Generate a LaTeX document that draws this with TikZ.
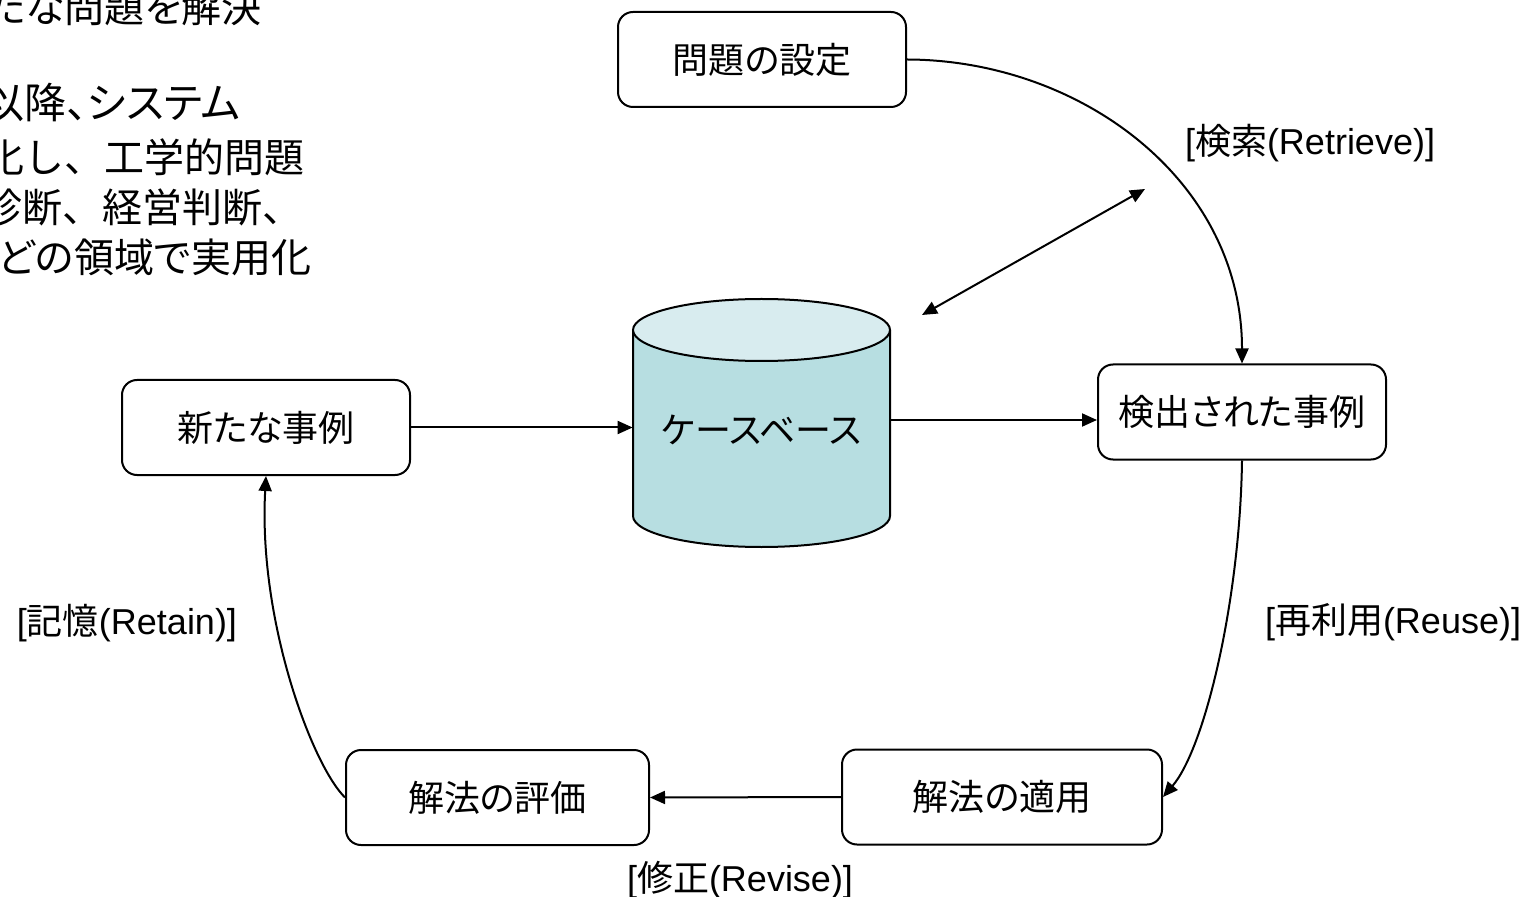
\documentclass[tikz,border=0pt]{standalone}
\usepackage{fontspec}
\setmainfont{Liberation Sans}
\newfontfamily\jp[RawFeature=+palt]{Noto Sans CJK JP}
\newfontfamily\jpf{Noto Sans CJK JP}
\usetikzlibrary{arrows.meta,calc}
\definecolor{cylbody}{RGB}{183,222,225}
\definecolor{cyltop}{RGB}{216,236,239}
\tikzset{
  box/.style={draw=black, line width=1pt, rounded corners=7.5pt, minimum height=47.5pt, inner sep=0pt, font=\jp\fontsize{18}{22}\selectfont},
  conn/.style={line width=1pt, -{Triangle[length=7.5pt,width=6.5pt]}},
  dconn/.style={line width=1pt, {Triangle[length=7.5pt,width=6.5pt]}-{Triangle[length=7.5pt,width=6.5pt]}},
  lbl/.style={font=\fontsize{18}{22}\selectfont, inner sep=0pt},
  side/.style={font=\jp\fontsize{20}{24}\selectfont, inner sep=0pt, anchor=west},
  sidef/.style={font=\jpf\fontsize{20}{24}\selectfont, inner sep=0pt, anchor=west}
}
\begin{document}
\begin{tikzpicture}[x=0.5pt,y=-0.5pt]
\useasboundingbox (0,0) rectangle (1529,897);
\clip (0,0) rectangle (1529,897);

% left text (cut by the page edge, as in the reference)
\node[side] (t1) at (-13,7) {たな問題を解決};
\node[side, font=\jp\fontsize{21}{24}\selectfont] (t2) at (-18,103) {以降、システム};
\node[sidef] (t3) at (-16,157) {化し、工学的問題};
\node[sidef] (t4) at (-18,207) {診断、経営判断、};
\node[side] (t5) at (-2,257) {どの領域で実用化};

% boxes
\node[box, minimum width=144pt] (set) at (762,59.5) {問題の設定};
\node[box, minimum width=144pt] (ret) at (1242,412) {検出された事例};
\node[box, minimum width=144pt] (new) at (266,427.5) {新たな事例};
\node[box, minimum width=151.5pt] (eval) at (497.5,797.5) {解法の評価};
\node[box, minimum width=160pt] (app) at (1002,797) {解法の適用};

% cylinder
\fill[cylbody] (633,330) -- (633,516) arc[start angle=180,end angle=360,x radius=64.25pt,y radius=15.5pt] -- (890,330) -- cycle;
\draw[line width=1pt] (633,330) -- (633,516) arc[start angle=180,end angle=360,x radius=64.25pt,y radius=15.5pt] -- (890,330);
\draw[line width=1pt, fill=cyltop] (761.5,330) ellipse [x radius=64.25pt, y radius=15.5pt];
\node[minimum width=128.5pt, minimum height=124pt, inner sep=0pt, font=\jp\fontsize{18}{22}\selectfont] (cb) at (761.5,430) {ケースベース};

% connectors
\draw[conn] (new.east) -- (new.east -| cb.west);
\coordinate (rin) at ($(ret.west)+(0,8)$);
\draw[conn] (rin -| cb.east) -- (rin);
\draw[conn] (app.west) -- (eval.east);
\draw[conn] (set.east) .. controls (1080,60) and (1242,180) .. (ret.north);
\draw[conn] (ret.south) .. controls (1240,600) and (1205,748) .. (app.east);
\draw[conn] (eval.west) .. controls (312,765) and (258,620) .. (new.south);
\coordinate (da) at (1145,189);
\coordinate (db) at (922,315);
\draw[dconn] (db) -- (da);

% labels
\node[lbl] (lret) at (1310,143) {[{\jp 検索}(Retrieve)]};
\node[lbl] (lreuse) at (1393,622) {[{\jp 再利用}(Reuse)]};
\node[lbl] (lretain) at (127,623) {[{\jp 記憶}(Retain)]};
\node[lbl] (lrevise) at (740,880) {[{\jp 修正}(Revise)]};
\end{tikzpicture}
\end{document}
